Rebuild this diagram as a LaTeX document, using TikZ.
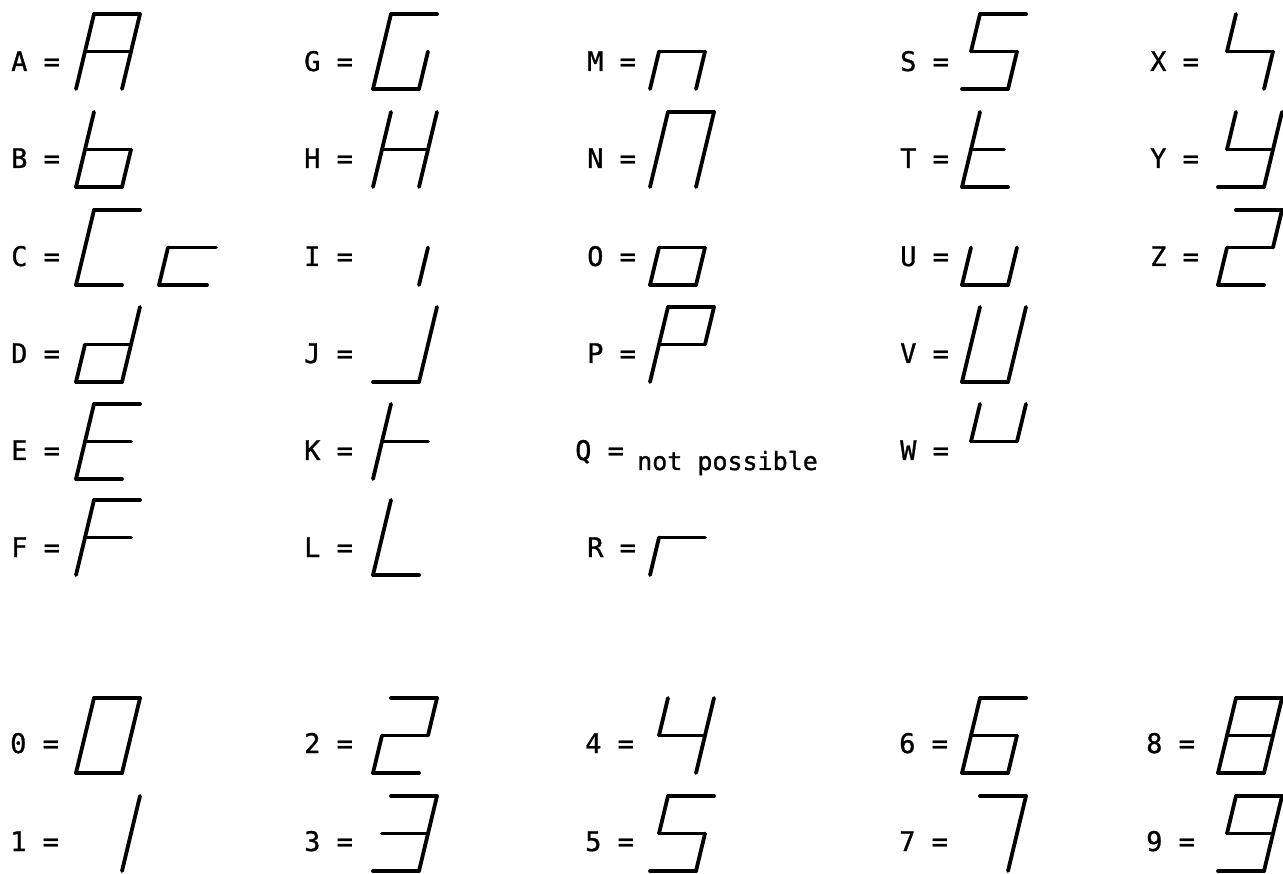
\documentclass[tikz,border=0pt]{standalone}
\usepackage{fontspec}
\newfontfamily\lblfont[FakeBold=1]{DejaVu Sans Mono}
\tikzset{
  segline/.style={line width=3.8pt, line cap=round, line join=round},
  lbl/.style={font=\lblfont\fontsize{27}{32}\selectfont, anchor=base west, inner sep=0pt}
}
% #1 width, #2 x of bottom-left, #3 y of bottom (pixels, downwards), #4 segment list
\newcommand{\sevseg}[4][46]{%
  \begin{scope}[shift={(#2,#3)},xslant=0.24]
    \coordinate (Pa1) at (0,-75);   \coordinate (Pa2) at (#1,-75);
    \coordinate (Pb1) at (#1,-75);  \coordinate (Pb2) at (#1,-37.5);
    \coordinate (Pc1) at (#1,-37.5);\coordinate (Pc2) at (#1,0);
    \coordinate (Pd1) at (0,0);     \coordinate (Pd2) at (#1,0);
    \coordinate (Pe1) at (0,-37.5); \coordinate (Pe2) at (0,0);
    \coordinate (Pf1) at (0,-75);   \coordinate (Pf2) at (0,-37.5);
    \coordinate (Pg1) at (0,-37.5); \coordinate (Pg2) at (#1,-37.5);
    \coordinate (Ph1) at (0,-37.5); \coordinate (Ph2) at (0.72*#1,-37.5);
    \foreach \s in {#4}{\draw[segline] (P\s1) -- (P\s2);}
  \end{scope}}
\begin{document}
\begin{tikzpicture}[x=1pt,y=-1pt]
\fill[white] (0,0) rectangle (1283,874);
\useasboundingbox (0,0) rectangle (1283,874);

% ---- labels, column 1
\node[lbl] (lA) at (11,71)  {A =};
\node[lbl] (lB) at (11,168) {B =};
\node[lbl] (lC) at (11,266) {C =};
\node[lbl] (lD) at (11,363) {D =};
\node[lbl] (lE) at (11,460) {E =};
\node[lbl] (lF) at (11,557) {F =};
% column 2
\node[lbl] (lG) at (304,71)  {G =};
\node[lbl] (lH) at (304,168) {H =};
\node[lbl] (lI) at (304,266) {I =};
\node[lbl] (lJ) at (304,363) {J =};
\node[lbl] (lK) at (304,460) {K =};
\node[lbl] (lL) at (304,557) {L =};
% column 3
\node[lbl] (lM) at (587,71)  {M =};
\node[lbl] (lN) at (587,168) {N =};
\node[lbl] (lO) at (587,266) {O =};
\node[lbl] (lP) at (587,363) {P =};
\node[lbl] (lQ) at (575,460) {Q =};
\node[lbl, font=\lblfont\fontsize{25}{30}\selectfont] (nq) at (637,470) {not possible};
\node[lbl] (lR) at (587,557) {R =};
% column 4
\node[lbl] (lS) at (900,71)  {S =};
\node[lbl] (lT) at (900,168) {T =};
\node[lbl] (lU) at (900,266) {U =};
\node[lbl] (lV) at (900,363) {V =};
\node[lbl] (lW) at (900,460) {W =};
% column 5
\node[lbl] (lX) at (1150,71)  {X =};
\node[lbl] (lY) at (1150,168) {Y =};
\node[lbl] (lZ) at (1150,266) {Z =};
% digits
\node[lbl] (l0) at (10,753)   {0 =};
\node[lbl] (l1) at (10,851)   {1 =};
\node[lbl] (l2) at (304,753)  {2 =};
\node[lbl] (l3) at (304,851)  {3 =};
\node[lbl] (l4) at (585,753)  {4 =};
\node[lbl] (l5) at (585,851)  {5 =};
\node[lbl] (l6) at (899,753)  {6 =};
\node[lbl] (l7) at (899,851)  {7 =};
\node[lbl] (l8) at (1146,753) {8 =};
\node[lbl] (l9) at (1146,851) {9 =};

% ---- glyphs, column 1
\sevseg{76}{89}{a,b,c,e,f,g}
\sevseg{76}{187}{f,e,g,c,d}
\sevseg{76}{285}{a,f,e,d}
\sevseg[48]{159}{285}{g,e,d}
\sevseg{76}{382}{b,c,g,e,d}
\sevseg{76}{479}{a,f,e,g,d}
\sevseg{76}{575}{a,f,e,g}
% column 2
\sevseg{373}{89}{a,f,e,d,c}
\sevseg{373}{187}{f,e,b,c,g}
\sevseg{373}{285}{c}
\sevseg{373}{382}{b,c,d}
\sevseg{373}{479}{f,e,g}
\sevseg{373}{575}{f,e,d}
% column 3
\sevseg{650}{89}{g,e,c}
\sevseg{650}{187}{a,f,e,b,c}
\sevseg{650}{285}{g,e,c,d}
\sevseg{650}{382}{a,b,f,g,e}
\sevseg{650}{575}{g,e}
% column 4
\sevseg{962}{89}{a,f,g,c,d}
\sevseg{962}{187}{f,e,h,d}
\sevseg{962}{285}{e,d,c}
\sevseg{962}{382}{f,e,d,b,c}
\sevseg{962}{479}{f,b,g}
% column 5
\sevseg{1218}{89}{f,g,c}
\sevseg{1218}{187}{f,b,g,c,d}
\sevseg{1218}{285}{a,b,g,e,d}
% digits
\sevseg{76}{773}{a,b,c,d,e,f}
\sevseg{76}{871}{b,c}
\sevseg{373}{773}{a,b,g,e,d}
\sevseg{373}{871}{a,b,g,c,d}
\sevseg{650}{773}{f,g,b,c}
\sevseg{650}{871}{a,f,g,c,d}
\sevseg{962}{773}{a,f,g,e,d,c}
\sevseg{962}{871}{a,b,c}
\sevseg{1218}{773}{a,b,c,d,e,f,g}
\sevseg{1218}{871}{a,b,f,g,c,d}
\end{tikzpicture}
\end{document}
